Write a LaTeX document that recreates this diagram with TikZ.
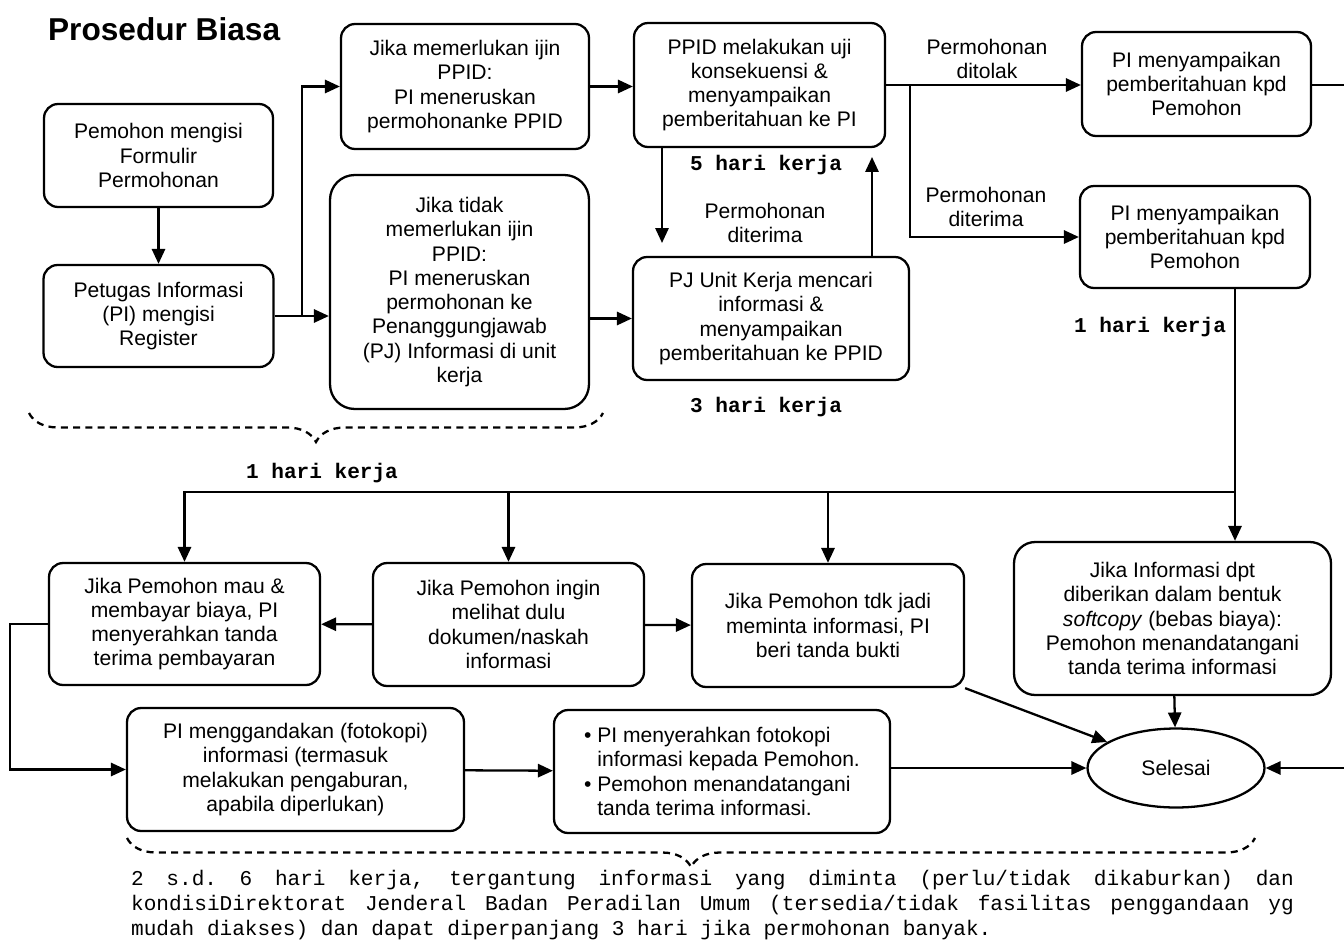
\documentclass[tikz,border=0pt]{standalone}
\usepackage{fontspec}
\setmainfont{Liberation Sans}
\newfontfamily\courier{Liberation Mono}
\usetikzlibrary{arrows.meta,shapes.geometric,decorations.pathreplacing}

\begin{document}
\begin{tikzpicture}[x=0.02cm,y=-0.02cm,>={Triangle[length=8.5pt,width=7.5pt]},
  line width=1.3pt,font=\fontsize{12}{13.8}\selectfont,
  box/.style={draw,rounded corners=8pt,align=center,inner sep=2pt},
  endoval/.style={draw,ellipse,minimum width=3.54cm,minimum height=1.58cm},
  days/.style={font=\courier\bfseries\fontsize{12}{14}\selectfont},
  branch/.style={align=center},
  span/.style={dash pattern=on 4pt off 3pt,decorate,decoration={brace,mirror,amplitude=0.58cm}}]
  \useasboundingbox (0,0) rectangle (1344,943);
  \node[anchor=west,inner sep=0pt,font=\bfseries\fontsize{18}{21}\selectfont] (judul) at (47,29) {Prosedur Biasa};
  % --- baris atas ---
  \node[box,minimum width=4.58cm,minimum height=2.06cm] (isi) at (158.5,155.5) {Pemohon mengisi\\Formulir\\Permohonan};
  \node[box,minimum width=4.60cm,minimum height=2.04cm] (reg) at (158.5,316) {Petugas Informasi\\(PI) mengisi\\Register};
  \node[box,minimum width=4.96cm,minimum height=2.50cm] (ijin) at (465,86.5) {Jika memerlukan ijin\\PPID:\\PI meneruskan\\permohonanke PPID};
  \node[box,rounded corners=14pt,minimum width=5.18cm,minimum height=4.68cm] (tanpa) at (459.5,292) {Jika tidak\\memerlukan ijin\\PPID:\\PI meneruskan\\permohonan ke\\Penanggungjawab\\(PJ) Informasi di unit\\kerja};
  \node[box,minimum width=5.02cm,minimum height=2.48cm] (uji) at (759.5,85) {PPID melakukan uji\\konsekuensi \&\\menyampaikan\\pemberitahuan ke PI};
  \node[box,minimum width=5.52cm,minimum height=2.46cm] (cari) at (771,318.5) {PJ Unit Kerja mencari\\informasi \&\\menyampaikan\\pemberitahuan ke PPID};
  \node[box,minimum width=4.58cm,minimum height=2.08cm] (tolak) at (1196.5,84) {PI menyampaikan\\pemberitahuan kpd\\Pemohon};
  \node[box,minimum width=4.60cm,minimum height=2.04cm] (terima) at (1195,237) {PI menyampaikan\\pemberitahuan kpd\\Pemohon};
  \node[days] (h5) at (766,165) {5 hari kerja};
  \node[days] (h3) at (766,407) {3 hari kerja};
  \node[days] (h1a) at (1150,327) {1 hari kerja};
  \node[days] (h1b) at (322,473) {1 hari kerja};
  \node[branch] (ok1) at (765,223) {Permohonan\\diterima};
  \node[branch] (no2) at (987,59) {Permohonan\\ditolak};
  \node[branch] (ok2) at (986,207) {Permohonan\\diterima};
  % --- baris bawah ---
  \node[box,minimum width=5.42cm,minimum height=2.44cm] (bayar) at (184.5,624) {Jika Pemohon mau \&\\membayar biaya, PI\\menyerahkan tanda\\terima pembayaran};
  \node[box,minimum width=5.42cm,minimum height=2.46cm] (lihat) at (508.5,624.5) {Jika Pemohon ingin\\melihat dulu\\dokumen/naskah\\informasi};
  \node[box,minimum width=5.44cm,minimum height=2.46cm] (batal) at (828,625.5) {Jika Pemohon tdk jadi\\meminta informasi, PI\\beri tanda bukti};
  \node[box,rounded corners=12pt,minimum width=6.34cm,minimum height=3.06cm] (soft) at (1172.5,618.5) {Jika Informasi dpt\\diberikan dalam bentuk\\\textit{softcopy} (bebas biaya):\\Pemohon menandatangani\\tanda terima informasi};
  \node[box,minimum width=6.74cm,minimum height=2.46cm] (ganda) at (295.5,769.5) {PI menggandakan (fotokopi)\\informasi (termasuk\\melakukan pengaburan,\\apabila diperlukan)};
  \node[box,align=left,minimum width=6.72cm,minimum height=2.46cm] (serah) at (722,771.5) {\textbullet\ PI menyerahkan fotokopi\\\hphantom{\textbullet\ }informasi kepada Pemohon.\\\textbullet\ Pemohon menandatangani\\\hphantom{\textbullet\ }tanda terima informasi.};
  \node[endoval] (selesai) at (1176,768) {Selesai};
  \node[anchor=north west,inner sep=0pt,text width=23.26cm,font=\courier\fontsize{12}{14.2}\selectfont] (ket) at (130,869)
    {\spaceskip=7.2pt plus 12pt\relax\xspaceskip=7.2pt plus 12pt\relax
     \leftskip=0pt\rightskip=0pt\parfillskip=0pt plus 1fil\relax
     \hyphenchar\font=-1\hyphenpenalty=10000\relax\tolerance=9999\relax
     2 s.d. 6 hari kerja, tergantung informasi yang diminta (perlu/tidak dikaburkan) dan kondisiDirektorat Jenderal Badan Peradilan Umum (tersedia/tidak fasilitas penggandaan yg mudah diakses) dan dapat diperpanjang 3 hari jika permohonan banyak.\par};
  % --- panah atas ---
  \draw[->] (isi) -- (reg);
  \coordinate (j1) at (302,316);
  \draw (reg.east) -- (j1);
  \draw[->] (j1) |- (ijin.west);
  \draw[->] (j1) -- (j1 -| tanpa.west);
  \draw[->] (ijin.east) -- (ijin.east -| uji.west);
  \draw[->] (tanpa.east |- cari.west) -- (cari.west);
  \coordinate (u1) at (662,243);
  \draw[->] (uji.south -| u1) -- (u1);
  \coordinate (u2) at (872,157);
  \draw[->] (cari.north -| u2) -- (u2);
  \coordinate (j2) at (910,85);
  \draw[->] (uji.east) -- (uji.east -| tolak.west);
  \draw[->] (j2) |- (terima.west);
  \coordinate (g2) at (1344,85);
  \draw (tolak.east |- g2) -- (g2);
  % --- panah bawah ---
  \coordinate (j3) at (1235,492);
  \draw (terima.south -| j3) -- (j3);
  \draw[->] (j3) -- (j3 |- soft.north);
  \draw[->] (j3) -| (bayar);
  \draw[->] (lihat.north |- j3) -- (lihat.north);
  \draw[->] (batal.north |- j3) -- (batal.north);
  \draw[->] (lihat) -- (bayar);
  \draw[->] (lihat) -- (batal);
  \draw[->] (bayar.west) -- ++(-38,0) |- (ganda.west);
  \draw[->] (ganda) -- (serah);
  \draw[->] (serah.east |- selesai) -- (selesai);
  \draw[->] (batal.south east) -- (selesai);
  \draw[->] (soft) -- (selesai);
  \coordinate (s2) at (1344,768);
  \draw[->] (s2) -- (selesai);
  % --- kurung kurawal ---
  \draw[span] (29,413) -- (603,413);
  \draw[span] (127,838) -- (1255,838);
\end{tikzpicture}
\end{document}
